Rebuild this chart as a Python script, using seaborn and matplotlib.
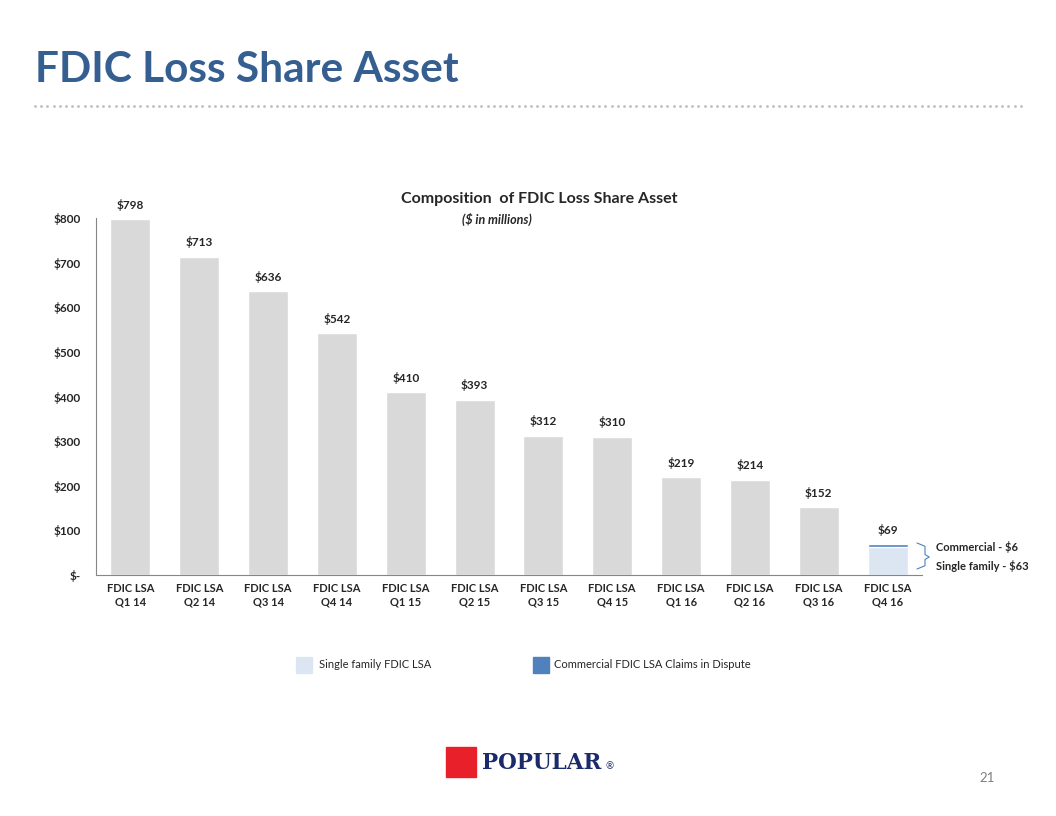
import numpy as np
import pandas as pd
import seaborn as sns
import matplotlib.pyplot as plt
from matplotlib.patches import Rectangle

# data ($ in millions)
quarters = ['Q1 14', 'Q2 14', 'Q3 14', 'Q4 14', 'Q1 15', 'Q2 15',
            'Q3 15', 'Q4 15', 'Q1 16', 'Q2 16', 'Q3 16', 'Q4 16']
totals = [798, 713, 636, 542, 410, 393, 312, 310, 219, 214, 152, 69]
single_family = [np.nan] * 11 + [63]
commercial = [np.nan] * 11 + [6]
y_ticks = [0, 100, 200, 300, 400, 500, 600, 700, 800]
y_tick_labels = ['$-', '$100', '$200', '$300', '$400', '$500', '$600', '$700', '$800']

categories = [f'FDIC LSA\n{q}' for q in quarters]
df = pd.DataFrame({'category': categories, 'total': totals,
                   'single_family': single_family, 'commercial': commercial})

sns.set_theme(style='white')
plt.rcParams['font.family'] = ['Lato', 'DejaVu Sans']

GRAY = '#D9D9D9'
LIGHT_BLUE = '#DCE6F2'
DARK_BLUE = '#4F81BD'
TITLE_BLUE = '#365F91'

fig = plt.figure(figsize=(10.56, 8.16), dpi=100)
ax = fig.add_axes([96 / 1056, 1 - 575 / 816, (922 - 96) / 1056, (575 - 218) / 816])

bar_colors = [GRAY] * 11 + [DARK_BLUE]
sns.barplot(data=df, x='category', y='total', hue='category', palette=bar_colors,
            legend=False, width=0.58, ax=ax, saturation=1)
sns.barplot(data=df, x='category', y='single_family', color=LIGHT_BLUE,
            width=0.58, ax=ax, saturation=1)

ax.set_xlim(-0.5, 11.5)
ax.set_ylim(0, 800)
ax.set_yticks(y_ticks)
ax.set_yticklabels(y_tick_labels, fontsize=8.5, fontweight='bold')
ax.tick_params(axis='y', length=0, pad=11)
ax.tick_params(axis='x', which='major', length=0, pad=6, labelsize=8)
for lbl in ax.get_xticklabels():
    lbl.set_fontweight('bold')
ax.set_xticks(np.arange(-0.5, 12, 1), minor=True)
ax.tick_params(axis='x', which='minor', length=4, color='#868686', direction='out')
ax.set_xlabel('')
ax.set_ylabel('')
for side in ['top', 'right']:
    ax.spines[side].set_visible(False)
for side in ['left', 'bottom']:
    ax.spines[side].set_color('#868686')
    ax.spines[side].set_linewidth(0.8)

for i, v in enumerate(totals):
    ax.annotate(f'${v}', (i, v), xytext=(0, 6), textcoords='offset points',
                ha='center', va='bottom', fontsize=8.5, fontweight='bold')

# title of the chart
fig.text(539 / 1056, 1 - 199 / 816, 'Composition  of FDIC Loss Share Asset',
         ha='center', va='center', fontsize=11.5, fontweight='bold')
fig.text(497 / 1056, 1 - 219 / 816, '($ in millions)', ha='center', va='center',
         fontsize=9, fontweight='bold', style='italic')

# page title
fig.text(35 / 1056, 1 - 70 / 816, 'FDIC Loss Share Asset', ha='left', va='center',
         fontsize=30.5, fontweight='bold', color=TITLE_BLUE)
dot_x = np.arange(35, 1022, 6.2) / 1056
fig.lines.append(plt.Line2D(dot_x, np.full_like(dot_x, 1 - 106 / 816),
                            transform=fig.transFigure, linestyle='none',
                            marker='o', markersize=1.0, color='#BFBFBF'))

# brace annotation
bx0, bx1 = 917 / 1056, 925 / 1056
ytop, ymid, ybot = 1 - 543 / 816, 1 - 557 / 816, 1 - 569 / 816
brace = plt.Line2D([bx0, bx1, bx1, bx1 + 0.004, bx1, bx1, bx0],
                   [ytop, ytop - 0.004, ymid + 0.003, ymid, ymid - 0.003, ybot + 0.004, ybot],
                   transform=fig.transFigure, color=DARK_BLUE, linewidth=0.8)
fig.lines.append(brace)
fig.text(936 / 1056, 1 - 547 / 816, 'Commercial - $6', fontsize=8, fontweight='bold',
         va='center', ha='left')
fig.text(936 / 1056, 1 - 566 / 816, 'Single family - $63', fontsize=8, fontweight='bold',
         va='center', ha='left')

# legend
fig.patches.append(Rectangle((296 / 1056, 1 - 673 / 816), 16 / 1056, 16 / 816,
                             transform=fig.transFigure, color=LIGHT_BLUE))
fig.text(319 / 1056, 1 - 665 / 816, 'Single family FDIC LSA', fontsize=8,
         va='center', ha='left')
fig.patches.append(Rectangle((533 / 1056, 1 - 673 / 816), 16 / 1056, 16 / 816,
                             transform=fig.transFigure, color=DARK_BLUE))
fig.text(554 / 1056, 1 - 665 / 816, 'Commercial FDIC LSA Claims in Dispute',
         fontsize=8, va='center', ha='left')

# logo
fig.patches.append(Rectangle((446 / 1056, 1 - 777 / 816), 30 / 1056, 30 / 816,
                             transform=fig.transFigure, color='#E8202A'))
fig.text(482 / 1056, 1 - 763 / 816, 'POPULAR', fontsize=15.5, fontweight='heavy',
         family='DejaVu Serif', color='#1B2A6B', va='center', ha='left')
fig.text(605 / 1056, 1 - 767 / 816, '®', fontsize=7, color='#1B2A6B',
         va='center', ha='left')

# page number
fig.text(987 / 1056, 1 - 778 / 816, '21', fontsize=9.5, color='#7F7F7F',
         va='center', ha='center')

fig.savefig('out.png', dpi=100)
